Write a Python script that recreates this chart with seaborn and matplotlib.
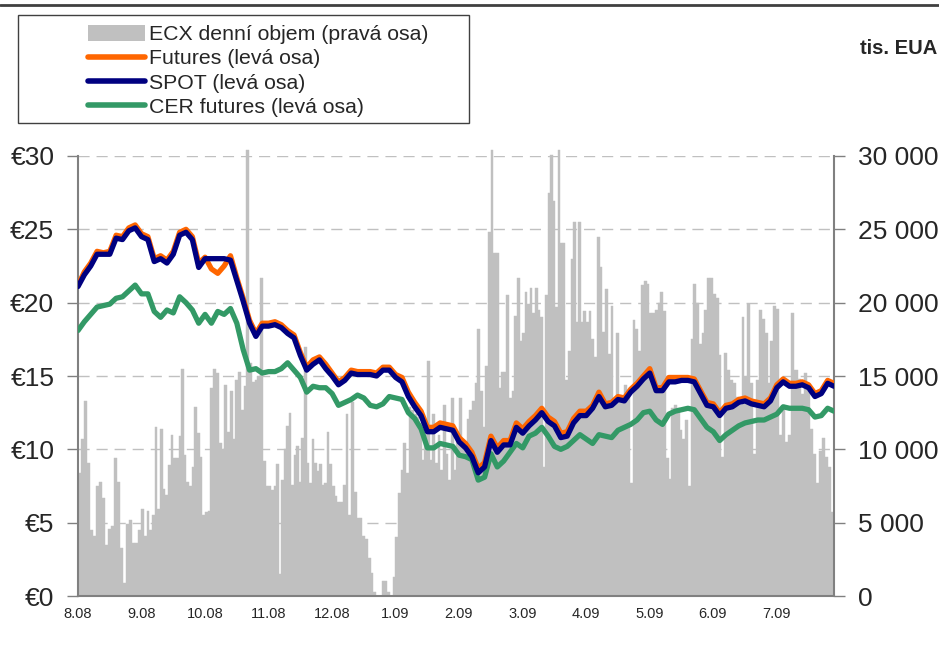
import numpy as np
import matplotlib
matplotlib.use('Agg')
import matplotlib.pyplot as plt
import seaborn as sns
from matplotlib.patches import Patch, Rectangle
from matplotlib.lines import Line2D

# month tick labels (category axis, one unit per month)
monthLabels = ['8.08', '9.08', '10.08', '11.08', '12.08', '1.09',
               '2.09', '3.09', '4.09', '5.09', '6.09', '7.09']

# ECX daily volume, thousands of "tis. EUA" (right axis), per month
vol_aug08 = [8.4, 10.7, 13.3, 9.1, 4.5, 4.1, 7.5, 7.8, 6.7, 3.5, 4.6, 4.8, 9.4, 7.8, 3.3, 0.9, 4.9, 5.2, 3.6, 3.6, 4.5]
vol_sep08 = [5.9, 4.1, 5.8, 4.5, 5.5, 11.5, 5.9, 11.4, 7.3, 6.9, 8.9, 11.0, 9.4, 9.4, 10.9, 15.5, 9.6, 7.8, 7.5, 8.8, 12.9, 11.1, 9.5, 5.5]
vol_oct08 = [5.7, 5.8, 14.2, 15.5, 15.2, 10.4, 10.0, 14.4, 11.2, 14.0, 10.7, 14.7, 15.3, 12.7, 14.3, 30.4, 15.9, 14.6, 14.7, 15.0, 21.7, 9.2, 7.5]
vol_nov08 = [7.5, 7.2, 7.5, 9.0, 1.5, 7.9, 10.0, 11.6, 12.5, 7.6, 9.6, 10.2, 7.8, 10.8, 17.0, 9.1, 7.7, 10.7, 9.1, 8.5, 9.0, 7.6, 7.7, 11.2, 9.0]
vol_dec08 = [7.5, 6.8, 6.4, 6.4, 7.6, 12.4, 5.5, 13.2, 7.1, 5.3, 5.3, 4.1, 3.9, 2.6, 1.6, 0.3, 0, 0, 1.0, 1.0, 0.3, 0, 1.3]
vol_jan09 = [4.0, 7.0, 8.6, 10.4, 8.4, 12.9, 12.7, 12.4, 12.2, 11.8, 9.3, 11.3, 16.0, 9.3, 12.4, 9.1, 11.0, 8.6, 13.0, 9.7, 7.9, 13.5, 8.6, 10.8]
vol_feb09 = [13.5, 10.2, 9.9, 12.1, 12.7, 13.3, 14.5, 18.2, 14.0, 11.5, 15.7, 24.8, 30.4, 23.4, 23.4, 14.2, 15.3, 15.3, 20.5, 13.5, 14.0, 19.1, 21.7, 17.4]
vol_mar09 = [17.9, 20.7, 19.9, 21.0, 19.3, 21.0, 19.5, 19.0, 8.8, 20.5, 27.5, 30.1, 26.9, 19.7, 30.4, 24.1, 24.1, 14.7, 16.7, 23.0, 25.5, 18.7, 25.5, 18.7, 19.4]
vol_apr09 = [18.7, 19.4, 17.5, 16.3, 24.5, 22.4, 18.0, 20.9, 16.5, 19.8, 13.4, 17.9, 13.4, 13.6, 14.4, 14.0, 7.7, 18.8, 18.2, 16.7, 21.2, 21.5, 21.3]
vol_may09 = [19.3, 19.3, 19.5, 20.0, 20.7, 19.4, 9.4, 8.0, 12.8, 13.0, 12.8, 11.3, 10.7, 12.0, 7.5, 17.5, 21.3, 20.0, 17.2, 17.9, 19.5, 21.7, 21.7]
vol_jun09 = [20.6, 20.3, 16.4, 9.5, 16.6, 15.4, 14.7, 14.5, 13.6, 13.0, 19.0, 15.0, 19.9, 14.5, 9.7, 14.7, 19.5, 18.9, 17.9, 14.5, 17.4, 19.8]
vol_jul09 = [19.6, 11.0, 13.0, 10.5, 11.0, 19.3, 15.4, 14.8, 13.8, 15.2, 14.0, 11.4, 9.7, 7.7, 9.9, 10.8, 9.5, 8.8, 5.7]

# prices in EUR (left axis), 10 readings per month from 8.08 to end of 7.09
spot = [21.1, 21.9, 22.5, 23.3, 23.3, 23.3, 24.4, 24.3, 24.9, 25.1,
        24.5, 24.3, 22.8, 23.0, 22.7, 23.3, 24.6, 24.8, 24.3, 22.4,
        23.0, 23.0, 23.0, 23.0, 22.9, 21.5, 20.1, 18.6, 17.7, 18.4,
        18.4, 18.5, 18.3, 17.9, 17.6, 16.4, 15.4, 15.8, 16.1, 15.5,
        15.0, 14.4, 14.7, 15.2, 15.1, 15.1, 15.1, 15.0, 15.4, 15.4,
        14.9, 14.6, 13.6, 12.9, 12.3, 11.2, 11.2, 11.5, 11.4, 11.3,
        10.5, 10.1, 9.5, 8.4, 8.8, 10.6, 9.8, 10.3, 10.3, 11.5,
        11.1, 11.6, 12.0, 12.5, 11.9, 11.6, 10.8, 10.9, 11.8, 12.3,
        12.3, 12.8, 13.6, 12.9, 13.0, 13.4, 13.3, 13.9, 14.3, 14.8,
        15.2, 14.0, 14.0, 14.6, 14.6, 14.7, 14.7, 14.6, 13.8, 13.0,
        12.9, 12.3, 12.8, 12.9, 13.2, 13.3, 13.1, 13.0, 12.9, 13.3,
        14.2, 14.6, 14.3, 14.3, 14.4, 14.2, 13.6, 13.8, 14.5, 14.3]
futures = [21.2, 22.1, 22.7, 23.5, 23.4, 23.5, 24.6, 24.5, 25.1, 25.3,
           24.7, 24.5, 23.0, 23.2, 22.9, 23.5, 24.8, 25.0, 24.5, 22.7,
           23.1, 22.3, 22.0, 22.5, 23.2, 21.7, 20.3, 18.8, 17.9, 18.6,
           18.6, 18.7, 18.5, 18.1, 17.8, 16.6, 15.6, 16.1, 16.3, 15.8,
           15.2, 14.6, 14.9, 15.4, 15.3, 15.3, 15.3, 15.2, 15.6, 15.6,
           15.1, 14.9, 13.9, 13.2, 12.6, 11.5, 11.5, 11.8, 11.7, 11.6,
           10.8, 10.4, 9.8, 8.7, 9.1, 10.9, 10.1, 10.6, 10.6, 11.8,
           11.4, 11.9, 12.3, 12.8, 12.2, 11.9, 11.1, 11.2, 12.1, 12.6,
           12.6, 13.0, 13.9, 13.1, 13.2, 13.6, 13.5, 14.1, 14.5, 15.0,
           15.5, 14.2, 14.2, 14.9, 14.9, 14.9, 14.9, 14.8, 14.0, 13.2,
           13.1, 12.5, 13.0, 13.1, 13.4, 13.5, 13.3, 13.2, 13.1, 13.5,
           14.4, 14.8, 14.5, 14.5, 14.6, 14.4, 13.8, 14.0, 14.7, 14.5]
cer = [18.1, 18.7, 19.2, 19.7, 19.8, 19.9, 20.3, 20.4, 20.8, 21.2,
       20.6, 20.6, 19.4, 19.0, 19.5, 19.3, 20.4, 20.0, 19.5, 18.6,
       19.2, 18.6, 19.4, 19.2, 19.6, 18.6, 16.8, 15.4, 15.5, 15.2,
       15.3, 15.3, 15.5, 15.9, 15.4, 14.9, 13.9, 14.3, 14.2, 14.2,
       13.8, 13.0, 13.2, 13.4, 13.7, 13.5, 13.0, 12.9, 13.1, 13.6,
       13.5, 13.4, 12.5, 12.1, 11.4, 10.1, 10.1, 10.4, 10.3, 10.2,
       9.6, 9.5, 9.3, 7.9, 8.1, 9.7, 8.8, 9.2, 9.8, 10.4,
       10.1, 10.9, 11.1, 11.5, 10.9, 10.2, 10.0, 10.2, 10.6, 11.0,
       10.7, 10.4, 11.0, 10.9, 10.8, 11.3, 11.5, 11.7, 12.0, 12.5,
       12.6, 12.0, 11.7, 12.4, 12.6, 12.7, 12.8, 12.7, 12.1, 11.5,
       11.2, 10.6, 11.0, 11.3, 11.6, 11.8, 11.9, 12.0, 12.0, 12.2,
       12.4, 12.9, 12.8, 12.8, 12.8, 12.7, 12.2, 12.3, 12.8, 12.6]

leftTickLabels = ['€0', '€5', '€10', '€15', '€20', '€25', '€30']
rightTickLabels = ['0', '5 000', '10 000', '15 000', '20 000', '25 000', '30 000']
legendLabels = ['ECX denní objem (pravá osa)', 'Futures (levá osa)',
                'SPOT (levá osa)', 'CER futures (levá osa)']

barColor = '#c0c0c0'
futuresColor = '#ff6600'
spotColor = '#000080'
cerColor = '#339966'
axisGrey = '#808080'
xEnd = 11.91  # data ends before the end of July

sns.set_style('white')
plt.rcParams['font.family'] = ['Liberation Sans', 'DejaVu Sans']

W, H = 939, 652
fig = plt.figure(figsize=(W / 100, H / 100), dpi=100)
axVol = fig.add_axes([78 / W, 56 / H, 756 / W, 440 / H])
axPrice = axVol.twinx()

# volume bars, spread evenly inside each month
monthlyVolumes = [vol_aug08, vol_sep08, vol_oct08, vol_nov08, vol_dec08, vol_jan09,
                  vol_feb09, vol_mar09, vol_apr09, vol_may09, vol_jun09, vol_jul09]
for m, vols in enumerate(monthlyVolumes):
    span = min(m + 1, xEnd) - m
    n = len(vols)
    xs = m + (np.arange(n) + 0.5) * span / n
    axVol.bar(xs, vols, width=span / n, color=barColor, edgecolor=barColor,
              linewidth=0.3, clip_on=False, zorder=2)

axVol.set_xlim(0, xEnd)
axVol.set_ylim(0, 30)
axVol.set_yticks(range(0, 31, 5))
axVol.set_yticklabels(rightTickLabels)
axVol.yaxis.tick_right()
axVol.grid(axis='y', color='#c0c0c0', linestyle=(0, (8, 5)), linewidth=1)
axVol.grid(axis='x', visible=False)
axVol.set_axisbelow(True)
axVol.set_xticks(range(len(monthLabels)))
axVol.set_xticklabels(monthLabels)
axVol.tick_params(axis='y', which='both', right=True, left=False, direction='out',
                  length=8, width=1, color=axisGrey, pad=9, labelsize=19)
axVol.tick_params(axis='x', direction='out', length=5, width=1, color='#404040',
                  pad=3, labelsize=10.5)
for side in ['left', 'right', 'bottom']:
    axVol.spines[side].set_color(axisGrey)
    axVol.spines[side].set_linewidth(1.5)
axVol.spines['top'].set_visible(False)

# price lines
xLine = np.linspace(0, xEnd, len(spot))
sns.lineplot(x=xLine, y=cer, ax=axPrice, color=cerColor, linewidth=3.8, sort=False)
sns.lineplot(x=xLine, y=futures, ax=axPrice, color=futuresColor, linewidth=3.8, sort=False)
sns.lineplot(x=xLine, y=spot, ax=axPrice, color=spotColor, linewidth=3.8, sort=False)
axPrice.set_ylim(0, 30)
axPrice.set_yticks(range(0, 31, 5))
axPrice.set_yticklabels(leftTickLabels)
axPrice.yaxis.tick_left()
axPrice.set_xlabel('')
axPrice.set_ylabel('')
axPrice.tick_params(axis='y', left=True, right=False, direction='out',
                    length=8, width=1, color=axisGrey, pad=9, labelsize=19)
for side in axPrice.spines:
    axPrice.spines[side].set_visible(False)

# legend in a plain box at top-left
handles = [Patch(facecolor=barColor, edgecolor='none'),
           Line2D([], [], color=futuresColor, linewidth=4),
           Line2D([], [], color=spotColor, linewidth=4),
           Line2D([], [], color=cerColor, linewidth=4)]
fig.legend(handles, legendLabels, loc='upper left', bbox_to_anchor=(88 / W, 1 - 25 / H),
           frameon=False, fontsize=15.3, handlelength=2.7, handleheight=0.75,
           handletextpad=0.15, labelspacing=0.24, borderpad=0, borderaxespad=0)
fig.add_artist(Rectangle((18 / W, 1 - 123 / H), 451 / W, 108 / H, transform=fig.transFigure,
                         fill=False, edgecolor='#404040', linewidth=1))
fig.add_artist(Line2D([0, 1], [1 - 5 / H, 1 - 5 / H], transform=fig.transFigure,
                      color='#404040', linewidth=2))
fig.text(937 / W, 1 - 48 / H, 'tis. EUA', ha='right', va='center', fontsize=14.5, fontweight='bold')

fig.savefig('out.png', dpi=100)
plt.close(fig)
